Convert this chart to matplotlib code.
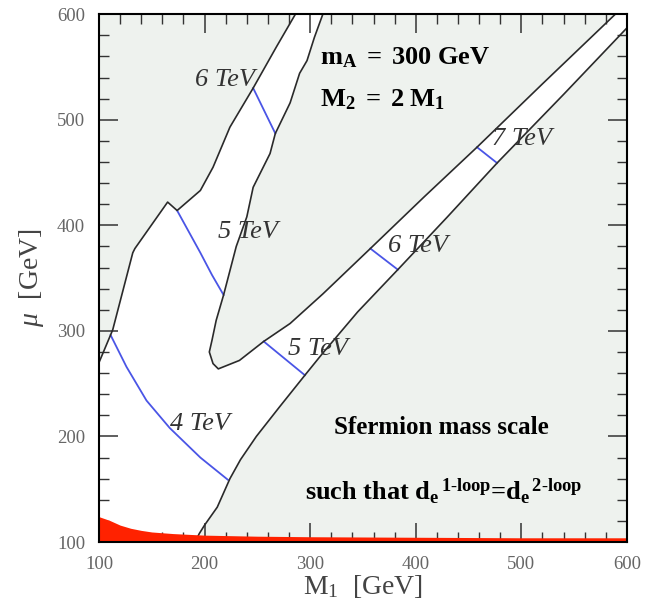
import numpy as np
import matplotlib
matplotlib.use("Agg")
import matplotlib.pyplot as plt
from matplotlib.ticker import MultipleLocator

plt.rcParams['font.family'] = ['Liberation Serif', 'DejaVu Serif']
plt.rcParams['mathtext.fontset'] = 'custom'
plt.rcParams['mathtext.rm'] = 'Liberation Serif'
plt.rcParams['mathtext.it'] = 'Liberation Serif:italic'
plt.rcParams['mathtext.bf'] = 'Liberation Serif:bold'

# boundaries of the allowed (white) region (M1, mu) in GeV
outer_x = [100, 113, 132, 134, 165, 174, 196, 208, 224, 246, 268, 286]
outer_y = [270, 301, 374, 378, 422, 414, 433, 455, 493, 530, 569, 600]

# jagged inner edge + tongue, from the top down to the tip and back up
inner_x = [312, 304, 297, 290, 281, 267, 262, 246, 240, 230, 218, 211, 207, 204.5, 208, 213,
           233, 256, 281, 312, 357, 408, 458, 520, 589]
inner_y = [600, 578, 556, 544, 516, 487, 468, 436, 408, 380, 334, 310, 291, 280, 269, 264,
           272, 290, 307, 335, 378, 427, 474, 534, 600]

# lower edge of the diagonal band
lower_x = [191, 195, 200, 212, 224, 234, 249, 271, 295, 312, 345, 383, 430, 477, 540, 600]
lower_y = [100, 108, 116, 133, 160, 178, 200, 228, 258, 279, 318, 358, 408, 459, 524, 587]

# excluded region at the bottom (red)
red_x = [100, 110, 120, 130, 140, 150, 170, 200, 250, 300, 400, 500, 600]
red_y = [124, 120.5, 116, 113, 111, 109.5, 108, 106.5, 105.5, 105, 104.5, 104, 104]

# sfermion-scale contours (blue segments)
c4_x = [111, 126, 145, 167, 196, 222]
c4_y = [296, 266, 234, 208, 180, 159]
c5a_x = [174, 185, 196, 207, 218]
c5a_y = [414, 394, 374, 353, 334]
c6a_x = [246, 267]
c6a_y = [530, 487]
c5b_x = [256, 295]
c5b_y = [290, 258]
c6b_x = [357, 383]
c6b_y = [378, 358]
c7_x = [458, 477]
c7_y = [474, 459]

tev_labels = ["6 TeV", "5 TeV", "4 TeV", "5 TeV", "6 TeV", "7 TeV"]
tev_pos = [(219, 538), (241, 394), (196, 212), (307, 283), (402, 380), (501, 482)]

bg = '#eef2ee'
line_c = '#2a2a2a'
blue = '#4a55e6'

fig = plt.figure(figsize=(6.47, 6.06), dpi=100)
ax = fig.add_axes([0.153, 0.1056, 0.816, 0.871])
ax.set_facecolor(bg)

# white allowed region
wx = outer_x + inner_x + [600, 600] + lower_x[::-1] + [100]
wy = outer_y + inner_y + [600, 587] + lower_y[::-1] + [100]
ax.fill(wx, wy, color='white', zorder=1)

ax.plot(outer_x, outer_y, color=line_c, lw=1.2, zorder=3)
ax.plot(inner_x, inner_y, color=line_c, lw=1.2, zorder=3)
ax.plot(lower_x, lower_y, color=line_c, lw=1.2, zorder=3)

ax.fill_between(red_x, 100, red_y, color='#ff2200', lw=0, zorder=4)

for cx, cy in [(c4_x, c4_y), (c5a_x, c5a_y), (c6a_x, c6a_y),
               (c5b_x, c5b_y), (c6b_x, c6b_y), (c7_x, c7_y)]:
    ax.plot(cx, cy, color=blue, lw=1.3, zorder=2)

for lab, (px, py) in zip(tev_labels, tev_pos):
    ax.text(px, py, lab, style='italic', fontsize=19, color='#333333',
            ha='center', va='center', zorder=5)

ax.text(309, 559, r'$\mathbf{m}_{\mathbf{A}}\mathbf{\ =\ 300\ GeV}$', fontsize=19,
        ha='left', va='center', zorder=5)
ax.text(309, 519, r'$\mathbf{M}_{\mathbf{2}}\mathbf{\ =\ 2\ M}_{\mathbf{1}}$', fontsize=19,
        ha='left', va='center', zorder=5)
ax.text(424, 208, 'Sfermion mass scale', fontweight='bold', fontsize=18,
        ha='center', va='center', zorder=5)
ax.text(295, 148, r'such that $\mathbf{d}_{\mathbf{e}}{}^{\,\mathbf{1\text{-}loop}}$'
        r'=$\mathbf{d}_{\mathbf{e}}{}^{\,\mathbf{2\text{-}loop}}$',
        fontweight='bold', fontsize=19, ha='left', va='center', zorder=5)

ax.set_xlim(100, 600)
ax.set_ylim(100, 600)
ax.xaxis.set_major_locator(MultipleLocator(100))
ax.yaxis.set_major_locator(MultipleLocator(100))
ax.xaxis.set_minor_locator(MultipleLocator(20))
ax.yaxis.set_minor_locator(MultipleLocator(20))
ax.tick_params(which='both', direction='in', top=True, right=True,
               labelsize=13.5, labelcolor='#666666', color='#333333')
ax.tick_params(which='major', length=14, width=1.1, pad=10)
ax.tick_params(which='minor', length=7, width=1.0)
for s in ax.spines.values():
    s.set_linewidth(1.5)
    s.set_zorder(6)

ax.set_xlabel(r'M$_{\rm 1}$  [GeV]', fontsize=20, color='#444444', labelpad=0)
ax.set_ylabel(r'$\mu$  [GeV]', fontsize=20, color='#444444', labelpad=8)

fig.savefig('out.png', dpi=100)
